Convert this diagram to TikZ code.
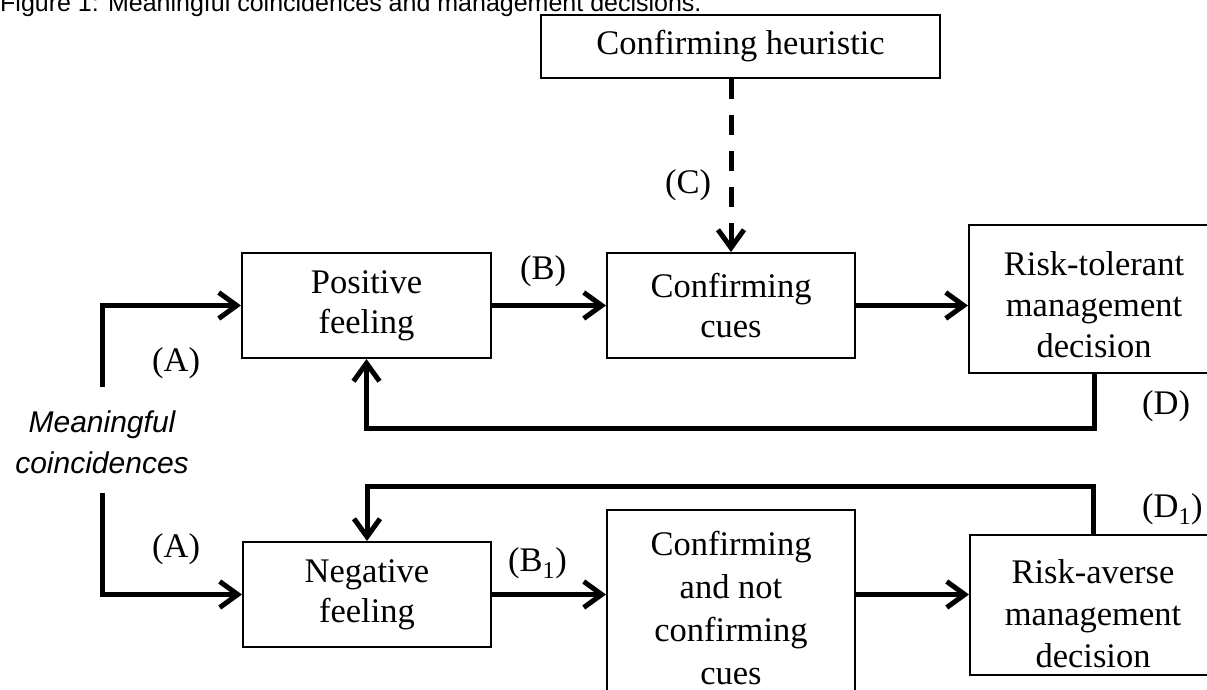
\documentclass[tikz,border=0pt]{standalone}
\usepackage{fontspec}
\setmainfont{Liberation Serif}
\newfontfamily\arialfont{Liberation Sans}
\usetikzlibrary{arrows.meta}
\begin{document}
\begin{tikzpicture}[x=1pt,y=-1pt,
  box/.style={draw, line width=2pt, align=center, inner sep=0pt, font=\fontsize{34.5}{40}\selectfont},
  txt/.style={align=center, inner sep=0pt, font=\fontsize{34.5}{41}\selectfont},
  lbl/.style={inner sep=0pt, anchor=west, font=\fontsize{34.5}{40}\selectfont},
  arr/.style={line width=5pt, line join=miter, -{Straight Barb[length=18pt,width=26pt]}},
  dasharr/.style={arr, dash pattern=on 20pt off 16pt}
]
\clip (0,0) rectangle (1207,690);
% title
\node[anchor=base west, inner sep=0pt, font=\arialfont\fontsize{25}{30}\selectfont] (title) at (0,12) {Figure 1: Meaningful coincidences and management decisions.};
% boxes
\node[box, minimum width=399pt, minimum height=63pt] (heur) at (740.5,46.5) {Confirming heuristic};
\node[box, minimum width=249pt, minimum height=105pt] (pos) at (366.5,305.5) {Positive\\feeling};
\node[box, minimum width=248pt, minimum height=105pt] (cues) at (731,305.5) {Confirming\\cues};
\node[box, minimum width=250pt, minimum height=148pt] (tol) at (1094,299) {};
\node[txt] (toltext) at (1094,305) {Risk-tolerant\\management\\decision};
\node[box, minimum width=248pt, minimum height=105pt] (neg) at (367,594.5) {Negative\\feeling};
\node[box, minimum width=248pt, minimum height=196pt, font=\fontsize{34.5}{43}\selectfont] (both) at (731,608) {Confirming\\and not\\confirming\\cues};
\node[box, minimum width=246pt, minimum height=140pt] (ave) at (1093,605) {};
\node[txt, font=\fontsize{34.5}{42}\selectfont] (avetext) at (1093,614) {Risk-averse\\management\\decision};
% source text
\node[align=center, inner sep=0pt, font=\arialfont\itshape\fontsize{30}{41}\selectfont] (mc) at (102,442) {Meaningful\\coincidences};
\coordinate (a1) at (102,387);
\coordinate (a2) at (102,493);
% connectors
\draw[arr] (a1) |- (pos.west);
\draw[arr] (a2) |- (neg.west);
\draw[arr] (pos.east) -- (cues.west);
\draw[arr] (cues.east) -- (cues.east -| tol.west);
\draw[arr] (neg.east) -- (neg.east -| both.west);
\draw[arr] (neg.east -| both.east) -- (neg.east -| ave.west);
\draw[dasharr] (heur.south -| cues.north) -- (cues.north);
\draw[arr] (tol.south) -- ++(0,54) -| (pos.south);
\draw[arr] (ave.north) -- ++(0,-48) -| (neg.north);
% labels
\node[lbl] (la1) at (152,363) {(A)};
\node[lbl] (la2) at (152,549) {(A)};
\node[lbl] (lb) at (520,271) {(B)};
\node[lbl] (lb1) at (508,563) {(B\textsubscript{1})};
\node[lbl] (lc) at (665,185) {(C)};
\node[lbl] (ld) at (1142,406) {(D)};
\node[lbl] (ld1) at (1142,509) {(D\textsubscript{1})};
\end{tikzpicture}
\end{document}
